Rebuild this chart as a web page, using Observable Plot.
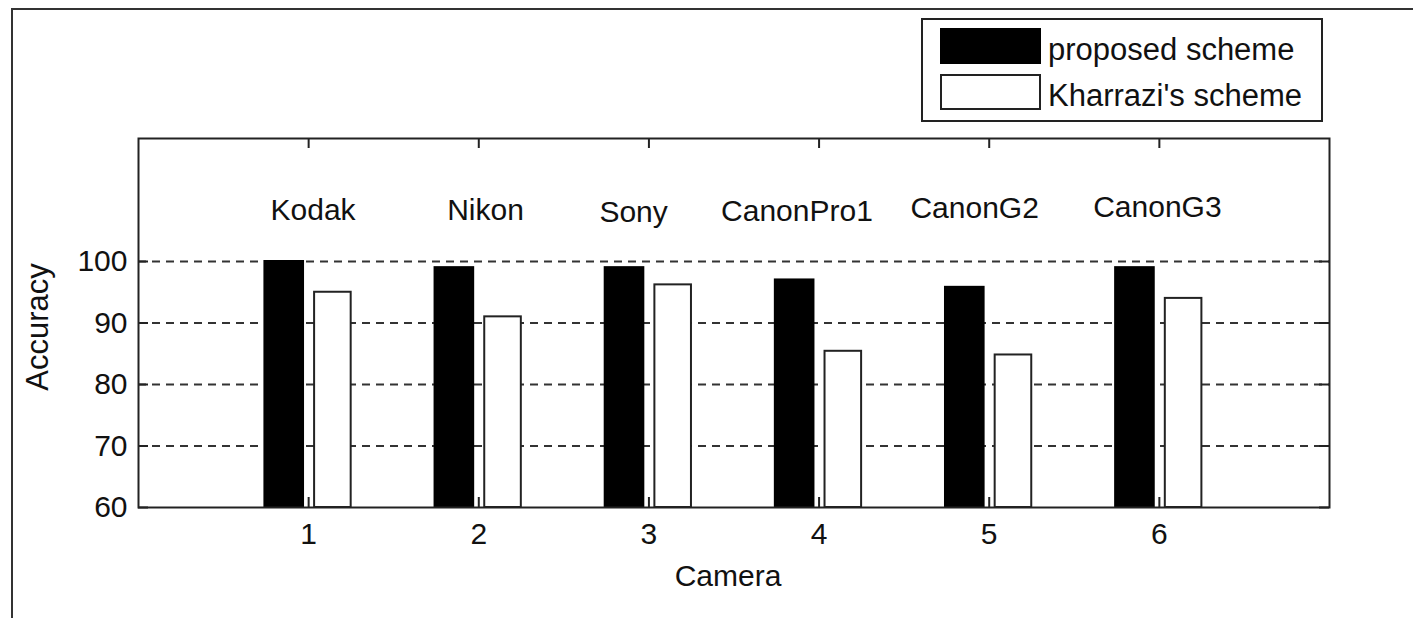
<!DOCTYPE html>
<html>
<head>
<meta charset="utf-8">
<script src="https://cdn.jsdelivr.net/npm/d3@7"></script>
<script src="https://cdn.jsdelivr.net/npm/@observablehq/plot@0.6"></script>
<style>
  html, body { margin: 0; padding: 0; background: #fff; }
  #wrap { position: relative; width: 1413px; height: 618px; overflow: hidden; font-family: "Liberation Sans", Arial, sans-serif; }
  #outer { position: absolute; left: 11px; top: 8px; width: 1500px; height: 700px; border-left: 2px solid #333; border-top: 2px solid #333; }
  #chart { position: absolute; left: 0; top: 0; }
  #legend { position: absolute; left: 921px; top: 18px; width: 398px; height: 100px; border: 2px solid #222; background: #fff; }
  .sw { position: absolute; left: 17px; width: 97px; height: 32px; border: 2px solid #000; box-sizing: content-box; }
  .lt { position: absolute; left: 125px; font-size: 31px; line-height: 30px; color: #111; white-space: nowrap; }
</style>
</head>
<body>
<div id="wrap">
  <div id="outer"></div>
  <div id="chart"></div>
  <div id="legend"></div>
</div>
<script>
const cameras = ["Kodak", "Nikon", "Sony", "CanonPro1", "CanonG2", "CanonG3"];
const cameraIndex = [1, 2, 3, 4, 5, 6];
const proposed = [100, 99, 99, 97, 95.8, 99];
const kharrazi = [95, 91, 96.2, 85.4, 84.8, 94];
const labelX = [0.776, 1.814, 2.709, 3.424, 4.537, 5.611];
const labelY = [106.7, 106.8, 106.5, 106.6, 107.1, 107.3];
const seriesNames = ["proposed scheme", "Kharrazi's scheme"];
const xTicks = [1, 2, 3, 4, 5, 6];
const yTicks = [60, 70, 80, 90, 100];
const gridValues = [70, 80, 90, 100];

const W = 1413, H = 618;
const mL = 138, mT = 138, mR = 84, mB = 111;
const xDomain = [0, 7], yDomain = [60, 120];
const plotW = W - mL - mR, plotH = H - mT - mB;
const tickLen = 10;
const tdy = tickLen * (yDomain[1] - yDomain[0]) / plotH; // tick length in y units
const tdx = tickLen * (xDomain[1] - xDomain[0]) / plotW; // tick length in x units
const font = "Liberation Sans, Arial, sans-serif";

const rows = cameras.map((c, i) => ({
  camera: c, idx: cameraIndex[i], proposed: proposed[i], kharrazi: kharrazi[i],
  lx: labelX[i], ly: labelY[i]
}));

const chart = Plot.plot({
  width: W, height: H,
  marginLeft: mL, marginTop: mT, marginRight: mR, marginBottom: mB,
  style: { fontFamily: font, fontSize: "30px", color: "#111", background: "transparent", overflow: "visible" },
  x: { type: "linear", domain: xDomain },
  y: { type: "linear", domain: yDomain },
  marks: [
    Plot.ruleY(gridValues, { y: d => d, stroke: "#333", strokeWidth: 2, strokeDasharray: "8,6" }),
    Plot.rect(rows, { x1: d => d.idx - 0.257, x2: d => d.idx - 0.03, y1: () => yDomain[0], y2: d => d.proposed, fill: "#000", stroke: "#000", strokeWidth: 2 }),
    Plot.rect(rows, { x1: d => d.idx + 0.035, x2: d => d.idx + 0.25, y1: () => yDomain[0], y2: d => d.kharrazi, fill: "#fff", stroke: "#222", strokeWidth: 2 }),
    // inward ticks bottom & top
    Plot.ruleX(xTicks, { x: d => d, y1: () => yDomain[0], y2: () => yDomain[0] + tdy, stroke: "#222", strokeWidth: 2 }),
    Plot.ruleX(xTicks, { x: d => d, y1: () => yDomain[1] - tdy, y2: () => yDomain[1], stroke: "#222", strokeWidth: 2 }),
    // inward ticks left & right
    Plot.ruleY(yTicks, { y: d => d, x1: () => xDomain[0], x2: () => xDomain[0] + tdx, stroke: "#222", strokeWidth: 2 }),
    Plot.ruleY(yTicks, { y: d => d, x1: () => xDomain[1] - tdx, x2: () => xDomain[1], stroke: "#222", strokeWidth: 2 }),
    Plot.frame({ stroke: "#222", strokeWidth: 2 }),
    Plot.axisX({ ticks: xTicks, tickSize: 0, tickPadding: 15, tickFormat: d => String(d), label: null, fontSize: 30, fill: "#111" }),
    Plot.axisY({ ticks: yTicks, tickSize: 0, tickPadding: 11, tickFormat: d => String(d), label: null, fontSize: 30, fill: "#111" }),
    Plot.text(rows, { x: "lx", y: "ly", text: "camera", textAnchor: "start", lineAnchor: "bottom", fontSize: 30, fill: "#111" }),
    Plot.text(["Camera"], { text: d => d, frameAnchor: "bottom", textAnchor: "middle", lineAnchor: "bottom", dy: 78, dx: -6, fontSize: 30, fill: "#111" }),
    Plot.text(["Accuracy"], { text: d => d, frameAnchor: "left", textAnchor: "middle", lineAnchor: "middle", dx: -100, dy: 4, rotate: -90, fontSize: 31, fill: "#111" })
  ]
});
document.getElementById("chart").appendChild(chart);

// legend
const legend = document.getElementById("legend");
const fills = ["#000", "#fff"];
const swTops = [8, 54];
const txtTops = [14.6, 60.6];
seriesNames.forEach((name, i) => {
  const sw = document.createElement("div");
  sw.className = "sw";
  sw.style.top = swTops[i] + "px";
  sw.style.background = fills[i];
  sw.style.borderColor = i === 0 ? "#000" : "#222";
  legend.appendChild(sw);
  const t = document.createElement("div");
  t.className = "lt";
  t.style.top = txtTops[i] + "px";
  t.textContent = name;
  legend.appendChild(t);
});
</script>
</body>
</html>
